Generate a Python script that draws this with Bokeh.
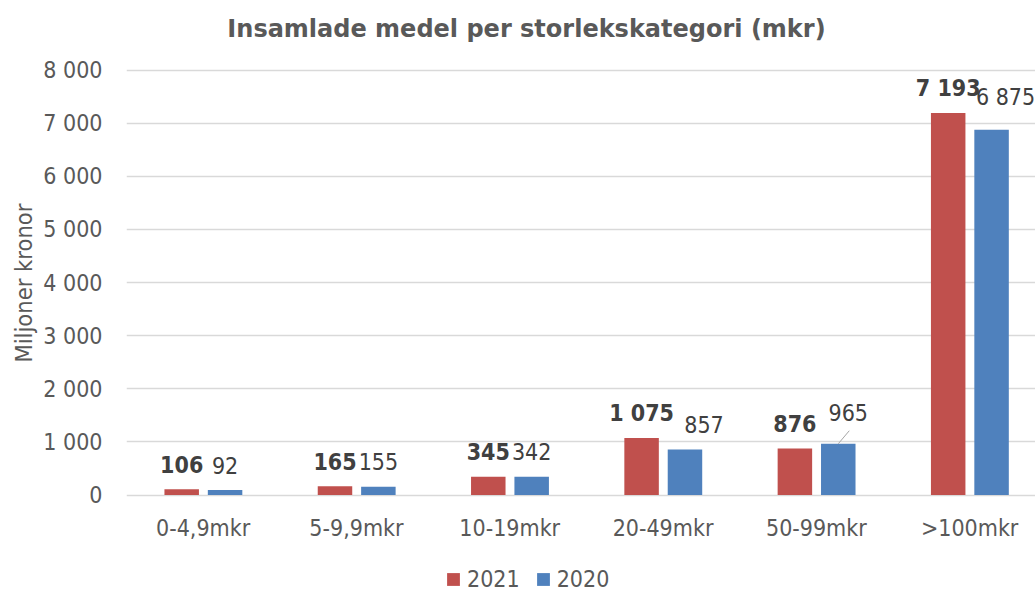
from bokeh.plotting import figure
from bokeh.models import Range1d, FixedTicker, Legend, LegendItem, ColumnDataSource, Title, Label
from bokeh.core.properties import value
from bokeh.embed import file_html
from bokeh.resources import INLINE
import numpy as np

categories = ["0-4,9mkr", "5-9,9mkr", "10-19mkr", "20-49mkr", "50-99mkr", ">100mkr"]
series_names = ["2021", "2020"]
values_2021 = [106, 165, 345, 1075, 876, 7193]
values_2020 = [92, 155, 342, 857, 965, 6875]
y_ticks = [0, 1000, 2000, 3000, 4000, 5000, 6000, 7000, 8000]
title_text = "Insamlade medel per storlekskategori (mkr)"
y_label = "Miljoner kronor"

FONT = "DejaVu Sans Condensed"
RED = "#C0504D"
BLUE = "#4F81BD"
TXT = "#595959"
LBL = "#404040"

def fmt(v):
    return f"{v:,}".replace(",", " ")

# ---- layout in pixels ----
W, H = 1035, 592
FRAME_LEFT = 126
CAT_PX = 153.3           # width of one category
PX_TOP = 69.6            # pixel row of the top gridline
ZERO_PX = 494.5          # pixel row of the value 0
upp = y_ticks[-1] / (ZERO_PX - PX_TOP)   # value units per pixel
y_end = y_ticks[-1] + PX_TOP * upp
y_start = -(H - ZERO_PX) * upp
x_end = (W - FRAME_LEFT) / CAT_PX

p = figure(width=W, height=H, output_backend="svg", toolbar_location=None,
           x_range=Range1d(0, x_end), y_range=Range1d(y_start, y_end),
           min_border_left=FRAME_LEFT, min_border_right=0, min_border_top=0, min_border_bottom=0)
p.outline_line_color = None
p.background_fill_color = "white"

pos = np.arange(len(categories)) + 0.5
x21 = pos - 0.140
x20 = pos + 0.143
bw = 0.225

r21 = p.vbar(x=x21, top=values_2021, width=bw, bottom=0, fill_color=RED, line_color=None)
r20 = p.vbar(x=x20, top=values_2020, width=bw, bottom=0, fill_color=BLUE, line_color=None)

# data labels (screen offsets)
xo21 = [0, 0, 0, 0, 0, 0]
yo21 = [-25, -25, -25, -25, -25, -25]
xo20 = [0, 0, 0, 19, 10, 14]
yo20 = [-25, -25, -25, -25, -31, -33]
src21 = ColumnDataSource(dict(x=x21, y=values_2021, t=[fmt(v) for v in values_2021], xo=xo21, yo=yo21))
src20 = ColumnDataSource(dict(x=x20, y=values_2020, t=[fmt(v) for v in values_2020], xo=xo20, yo=yo20))
p.text(x="x", y="y", text="t", x_offset="xo", y_offset="yo", source=src21,
       text_font=value(FONT), text_font_size="23px", text_font_style="bold",
       text_color=LBL, text_align="center", text_baseline="middle")
p.text(x="x", y="y", text="t", x_offset="xo", y_offset="yo", source=src20,
       text_font=value(FONT), text_font_size="23px",
       text_color=LBL, text_align="center", text_baseline="middle")
# leader line for the 965 label
p.segment(x0=[x20[4]], y0=[values_2020[4]], x1=[x20[4] + 11 / CAT_PX], y1=[values_2020[4] + 13 * upp],
          line_color="#A6A6A6", line_width=1)

# title (centred at pixel x 526, baseline at pixel row 28)
title = Label(x=(526 - FRAME_LEFT) / CAT_PX, y=y_ticks[-1] + (PX_TOP - 28) * upp,
              text=title_text, text_align="center", text_baseline="alphabetic",
              text_font="DejaVu Sans", text_font_size="24px", text_font_style="bold",
              text_color=TXT)
p.add_layout(title)

# axes
p.xaxis.fixed_location = 0
p.xaxis.ticker = FixedTicker(ticks=list(pos))
p.xaxis.major_label_overrides = {float(k): c for k, c in zip(pos, categories)}
p.yaxis.ticker = FixedTicker(ticks=y_ticks)
p.yaxis.major_label_overrides = {t_: fmt(t_) for t_ in y_ticks}
for ax in (p.xaxis[0], p.yaxis[0]):
    ax.axis_line_color = None
    ax.major_tick_line_color = None
    ax.minor_tick_line_color = None
    ax.major_tick_out = 0
    ax.major_tick_in = 0
    ax.major_label_text_font = FONT
    ax.major_label_text_font_size = "23px"
    ax.major_label_text_color = TXT
p.xaxis.major_label_standoff = 20
p.yaxis.major_label_standoff = 24

ylab = Title(text=y_label, align="left", offset=H - 362, vertical_align="top",
             text_font=FONT, text_font_size="23.5px", text_font_style="normal",
             text_color=TXT, standoff=2)
p.add_layout(ylab, "left")

p.xgrid.grid_line_color = None
p.ygrid.grid_line_color = "#D9D9D9"
p.ygrid.grid_line_width = 1.5

legend = Legend(items=[LegendItem(label=series_names[0], renderers=[r21]),
                       LegendItem(label=series_names[1], renderers=[r20])],
                orientation="horizontal", location=(319, 0),
                label_text_font=FONT, label_text_font_size="23px", label_text_color=TXT,
                glyph_width=16, glyph_height=16, label_standoff=6, spacing=15,
                padding=0, margin=0, border_line_color=None, background_fill_alpha=0)
p.add_layout(legend, "center")

open("out.html", "w").write(file_html(p, INLINE))
